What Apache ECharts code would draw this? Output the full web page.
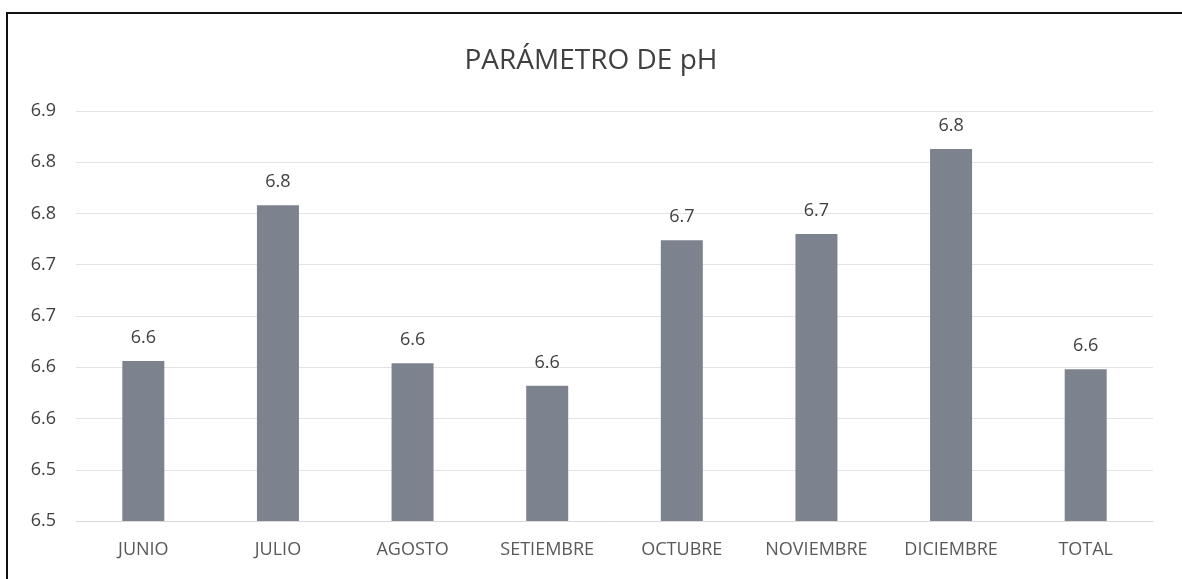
<!DOCTYPE html>
<html>
<head>
<meta charset="utf-8">
<script src="https://cdn.jsdelivr.net/npm/echarts@6/dist/echarts.min.js"></script>
<style>
html,body{margin:0;padding:0;background:#fff;}
#c{width:1182px;height:579px;}
</style>
</head>
<body>
<div id="c"></div>
<script>
const categories = ['JUNIO','JULIO','AGOSTO','SETIEMBRE','OCTUBRE','NOVIEMBRE','DICIEMBRE','TOTAL'];
const phValues = [6.606, 6.758, 6.604, 6.582, 6.724, 6.730, 6.813, 6.598];
const titleText = 'PARÁMETRO DE pH';
const yMin = 6.45, yMax = 6.85, yStep = 0.05;

function round1(v){ return (Math.round(v*10 + 1e-6)/10).toFixed(1); }

const chart = echarts.init(document.getElementById('c'), null, {renderer:'canvas'});
chart.setOption({
  backgroundColor:'#ffffff',
  animation:false,
  title:{
    text:titleText, left:'center', top:42,
    textStyle:{fontFamily:'Open Sans', fontSize:28, fontWeight:'normal', color:'#404040'}
  },
  grid:{left:76, right:29, top:111, bottom:58},
  xAxis:{
    type:'category', data:categories,
    axisLine:{show:true, lineStyle:{color:'#d9d9d9', width:1}},
    axisTick:{show:false},
    axisLabel:{fontFamily:'Open Sans', fontSize:18, color:'#595959', margin:20}
  },
  yAxis:{
    type:'value', min:yMin, max:yMax, interval:yStep,
    axisLine:{show:false}, axisTick:{show:false},
    splitLine:{lineStyle:{color:'#e3e3e3', width:1}},
    axisLabel:{fontFamily:'Open Sans', fontSize:18, color:'#404040', margin:20, formatter:round1}
  },
  series:[{
    type:'bar', data:phValues, barWidth:42,
    itemStyle:{color:'#7d828f'},
    label:{show:true, position:'top', distance:14, fontFamily:'Open Sans', fontSize:18, color:'#404040',
      formatter:p=>round1(p.value)}
  }],
  graphic:[{
    type:'rect', shape:{x:7, y:13, width:1200, height:620},
    style:{fill:'none', stroke:'#111', lineWidth:2}, silent:true
  }]
});
</script>
</body>
</html>
